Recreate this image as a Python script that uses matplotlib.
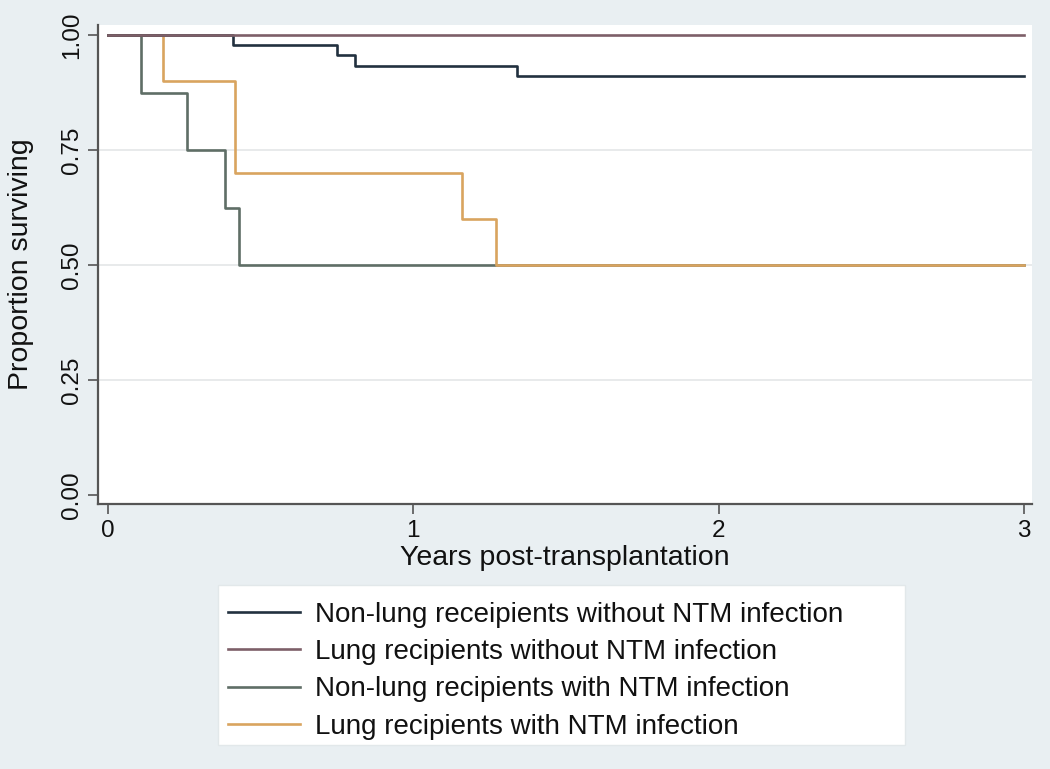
import matplotlib.pyplot as plt
from matplotlib.patches import Rectangle

# Kaplan-Meier step data (years, proportion surviving)
nonlung_no_ntm_t = [0, 0.41, 0.75, 0.81, 1.34, 3.0]
nonlung_no_ntm_s = [1.0, 0.978, 0.957, 0.933, 0.911, 0.911]

lung_no_ntm_t = [0, 3.0]
lung_no_ntm_s = [1.0, 1.0]

nonlung_ntm_t = [0, 0.11, 0.26, 0.385, 0.43, 3.0]
nonlung_ntm_s = [1.0, 0.875, 0.75, 0.625, 0.5, 0.5]

lung_ntm_t = [0, 0.18, 0.415, 1.16, 1.27, 3.0]
lung_ntm_s = [1.0, 0.9, 0.7, 0.6, 0.5, 0.5]

labels = [
    'Non-lung receipients without NTM infection',
    'Lung recipients without NTM infection',
    'Non-lung recipients with NTM infection',
    'Lung recipients with NTM infection',
]
colors = ['#22313f', '#7d5f68', '#5f6e66', '#d9a45f']

yticks = [0, 0.25, 0.5, 0.75, 1.0]
xticks = [0, 1, 2, 3]

plt.rcParams['font.family'] = ['Liberation Sans', 'DejaVu Sans']

W, H = 1050, 769
bg = '#e9eff2'
fig = plt.figure(figsize=(W / 100, H / 100), dpi=100, facecolor=bg)
ax_h = (504 - 25) / H
ax = fig.add_axes([98 / W, 1 - 504 / H, (1032 - 98) / W, ax_h])
ax.set_facecolor('white')

series = [
    (nonlung_no_ntm_t, nonlung_no_ntm_s),
    (lung_no_ntm_t, lung_no_ntm_s),
    (nonlung_ntm_t, nonlung_ntm_s),
    (lung_ntm_t, lung_ntm_s),
]
handles = {}
# grey first, orange over it, then the flat upper curves on top
for z, i in enumerate([2, 3, 0, 1]):
    t, s = series[i]
    h, = ax.step(t, s, where='post', color=colors[i], lw=1.9,
                 label=labels[i], zorder=3 + z)
    handles[i] = h
handles = [handles[i] for i in range(4)]

for y in [0.25, 0.5, 0.75]:
    ax.axhline(y, color='#e4e6e8', lw=1.2, zorder=1)

ax.set_xlim(-0.032, 3.026)
ax.set_ylim(-0.0196, 1.022)
ax.set_xticks(xticks)
ax.set_xticklabels([str(x) for x in xticks])
ax.set_yticks(yticks)
ax.set_yticklabels(['%.2f' % y for y in yticks], rotation=90, va='center')

for side in ['top', 'right']:
    ax.spines[side].set_visible(False)
for side in ['left', 'bottom']:
    ax.spines[side].set_color('#555555')
    ax.spines[side].set_linewidth(1.6)

ax.tick_params(axis='both', length=7.5, width=1.2, color='#555555',
               labelsize=17.5, labelcolor='#111111')
ax.tick_params(axis='x', pad=4)
ax.tick_params(axis='y', pad=3)

ax.set_xlabel('Years post-transplantation', fontsize=20.5, color='#111111')
ax.set_ylabel('Proportion surviving', fontsize=20.5, color='#111111')
ax.xaxis.set_label_coords(0.5, (504 - 558) / 479)
ax.xaxis.label.set_va('center')
ax.yaxis.set_label_coords((21 - 98) / 934, 0.5)
ax.yaxis.label.set_va('center')

# legend box
fig.patches.append(Rectangle((218 / W, 1 - 745 / H), (905 - 218) / W, 160 / H,
                             transform=fig.transFigure, facecolor='white',
                             edgecolor='#e2e8ea', lw=1, zorder=0))
fig.legend(handles=handles, labels=labels, loc='upper left',
           bbox_to_anchor=(222 / W, 1 - 596 / H), frameon=False,
           fontsize=20, handlelength=2.6, handletextpad=0.54,
           labelspacing=0.41, borderpad=0.2, borderaxespad=0,
           labelcolor='#111111')

fig.savefig('out.png', dpi=100, facecolor=bg)
